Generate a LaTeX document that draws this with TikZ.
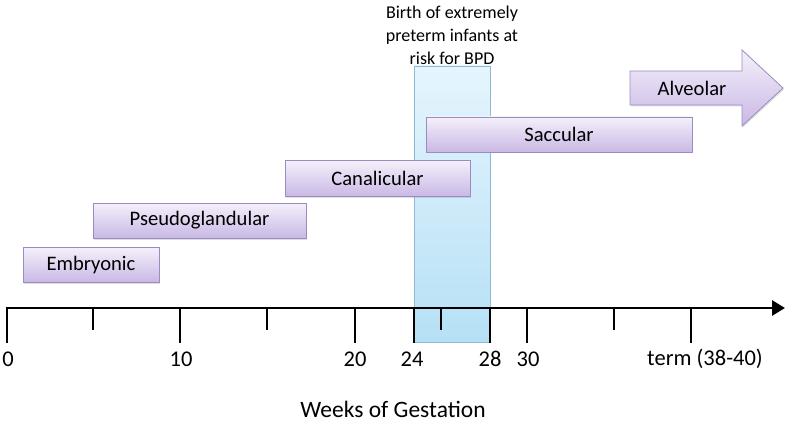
\documentclass[tikz,border=0pt]{standalone}
\usepackage{fontspec}
\setmainfont{Carlito}
\usetikzlibrary{arrows.meta,shadows}

\definecolor{phasetop}{HTML}{F4F0FA}
\definecolor{phasebot}{HTML}{C9B8E5}
\definecolor{phaseline}{HTML}{9A8BC0}
\definecolor{risktop}{HTML}{E5F5FD}
\definecolor{riskbot}{HTML}{B6E0F6}
\definecolor{riskline}{HTML}{8DBBD3}

\tikzset{
  phase/.style={draw=phaseline, line width=0.8pt, top color=phasetop, bottom color=phasebot,
    drop shadow={shadow xshift=1pt, shadow yshift=-1.5pt, opacity=0.25},
    inner sep=0pt, font=\fontsize{20.6}{24}\selectfont},
  major/.style={line width=2.8pt},
  minor/.style={line width=2.8pt},
  ticklabel/.style={font=\fontsize{22.5}{26}\selectfont}
}

\begin{document}
\begin{tikzpicture}[x=1pt, y=-1pt]
  \useasboundingbox (0,0) rectangle (789,422);

  % window of extremely preterm birth
  \shade[top color=risktop, bottom color=riskbot] (414,66) rectangle (490,342);
  \draw[riskline, line width=0.8pt] (414,66) rectangle (490,342);
  \node[align=center, inner sep=1pt, font=\fontsize{18}{23}\selectfont] (birth) at (452,35)
    {Birth of extremely\\preterm infants at\\risk for BPD};

  % developmental phases
  \node[phase, minimum width=136pt, minimum height=35pt] (embryonic) at (91,265) {Embryonic};
  \node[phase, minimum width=213pt, minimum height=35pt] (pseudo) at (199.5,220.5) {Pseudoglandular};
  \node[phase, minimum width=185pt, minimum height=36pt] (canal) at (377.5,178.5) {Canalicular};
  \node[phase, minimum width=266pt, minimum height=35pt] (saccular) at (559,134.5) {Saccular};

  % alveolar phase runs on past term
  \draw[draw=phaseline, line width=0.8pt, top color=phasetop, bottom color=phasebot,
    drop shadow={shadow xshift=1pt, shadow yshift=-1.5pt, opacity=0.25}]
    (630,71) -- (742,71) -- (742,50) -- (783,88) -- (742,126) -- (742,105) -- (630,105) -- cycle;
  \node[font=\fontsize{20.6}{24}\selectfont] (alveolar) at (692,88) {Alveolar};

  % time axis
  \coordinate (origin) at (5.6,308);
  \coordinate (axisend) at (785,308);
  \draw[line width=2.8pt, -{Triangle[length=13pt,width=15pt]}] (origin) -- (axisend);
  \foreach \x in {7,180,355,414,490,527,691}
    \draw[major] (\x,308) -- (\x,343);
  \foreach \x in {93,267,441,614}
    \draw[minor] (\x,308) -- (\x,330);

  \node[ticklabel] (w0) at (8,359) {0};
  \node[ticklabel] (w10) at (181,359) {10};
  \node[ticklabel] (w20) at (355,359) {20};
  \node[ticklabel] (w24) at (412,359) {24};
  \node[ticklabel] (w28) at (490,359) {28};
  \node[ticklabel] (w30) at (528,359) {30};
  \node[ticklabel] (term) at (705,359) {term (38-40)};

  \node[inner sep=1pt, font=\fontsize{23.5}{27}\selectfont] (weeks) at (393,409) {Weeks of Gestation};
\end{tikzpicture}
\end{document}
